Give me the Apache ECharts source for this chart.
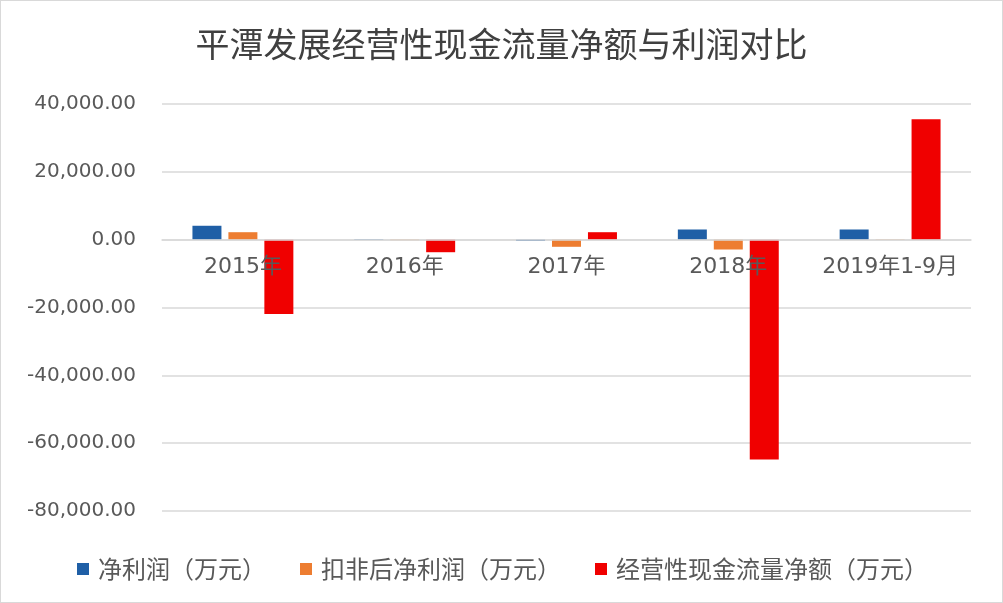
<!DOCTYPE html>
<html><head><meta charset="utf-8">
<script src="https://cdn.jsdelivr.net/npm/echarts@6/dist/echarts.min.js"></script>
<style>html,body{margin:0;padding:0;background:#fff}#c{width:1003px;height:603px;box-sizing:border-box;border:1px solid #d9d9d9}</style>
</head><body><div id="c"></div>
<script>
const categories = ['2015年', '2016年', '2017年', '2018年', '2019年1-9月'];
const netProfit = [4100, 150, -400, 3000, 3000];
const deductedProfit = [2200, -150, -2100, -2900, 100];
const opCashFlow = [-21900, -3700, 2200, -64800, 35500];
const yTicks = { min: -80000, max: 40000, interval: 20000 };
const seriesNames = ['净利润（万元）', '扣非后净利润（万元）', '经营性现金流量净额（万元）'];
const colors = ['#1f5fa6', '#ed7d31', '#f00000'];

const font = '"Noto Sans CJK SC", "Noto Sans", sans-serif';
const numFont = '"DejaVu Sans", "Noto Sans CJK SC", sans-serif';
const chart = echarts.init(document.getElementById('c'));
const gridCfg = { left: 161, right: 31, top: 103, bottom: 91 };
const option = {
  animation: false,
  textStyle: { fontFamily: font },
  title: {
    text: '平潭发展经营性现金流量净额与利润对比',
    left: 'center', top: 21,
    textStyle: { fontFamily: font, fontSize: 34, fontWeight: 'normal', color: '#404040' }
  },
  legend: {
    top: 551, left: 71,
    itemWidth: 12, itemHeight: 12, itemGap: 34,
    icon: 'rect',
    textStyle: { fontFamily: font, fontSize: 24, color: '#595959', padding: [0, 0, 0, 4] },
    data: seriesNames
  },
  grid: gridCfg,
  xAxis: {
    type: 'category', data: categories, zlevel: 1, z: 10,
    axisLine: { onZero: false, lineStyle: { color: '#d9d9d9', width: 1.5 } },
    axisTick: { show: false },
    axisLabel: { interval: 0, hideOverlap: false, fontFamily: numFont, fontSize: 22, color: '#595959', margin: 17 }
  },
  yAxis: {
    type: 'value', min: yTicks.min, max: yTicks.max, interval: yTicks.interval,
    axisLine: { show: false }, axisTick: { show: false },
    splitLine: { lineStyle: { color: '#d9d9d9', width: 1.5 } },
    axisLabel: {
      fontFamily: numFont, fontSize: 20, color: '#595959', margin: 26,
      formatter: v => v.toLocaleString('en-US', { minimumFractionDigits: 2, maximumFractionDigits: 2 })
    }
  },
  series: [
    { name: seriesNames[0], type: 'bar', data: netProfit, barWidth: 29, barGap: '24%', itemStyle: { color: colors[0] } },
    { name: seriesNames[1], type: 'bar', data: deductedProfit, barWidth: 29, barGap: '24%', itemStyle: { color: colors[1] } },
    { name: seriesNames[2], type: 'bar', data: opCashFlow, barWidth: 29, barGap: '24%', itemStyle: { color: colors[2] } }
  ]
};
chart.setOption(option);
const zeroY = chart.convertToPixel({ yAxisIndex: 0 }, 0);
const bottomY = chart.convertToPixel({ yAxisIndex: 0 }, yTicks.min);
chart.setOption({ xAxis: { offset: zeroY - bottomY } });
</script></body></html>
